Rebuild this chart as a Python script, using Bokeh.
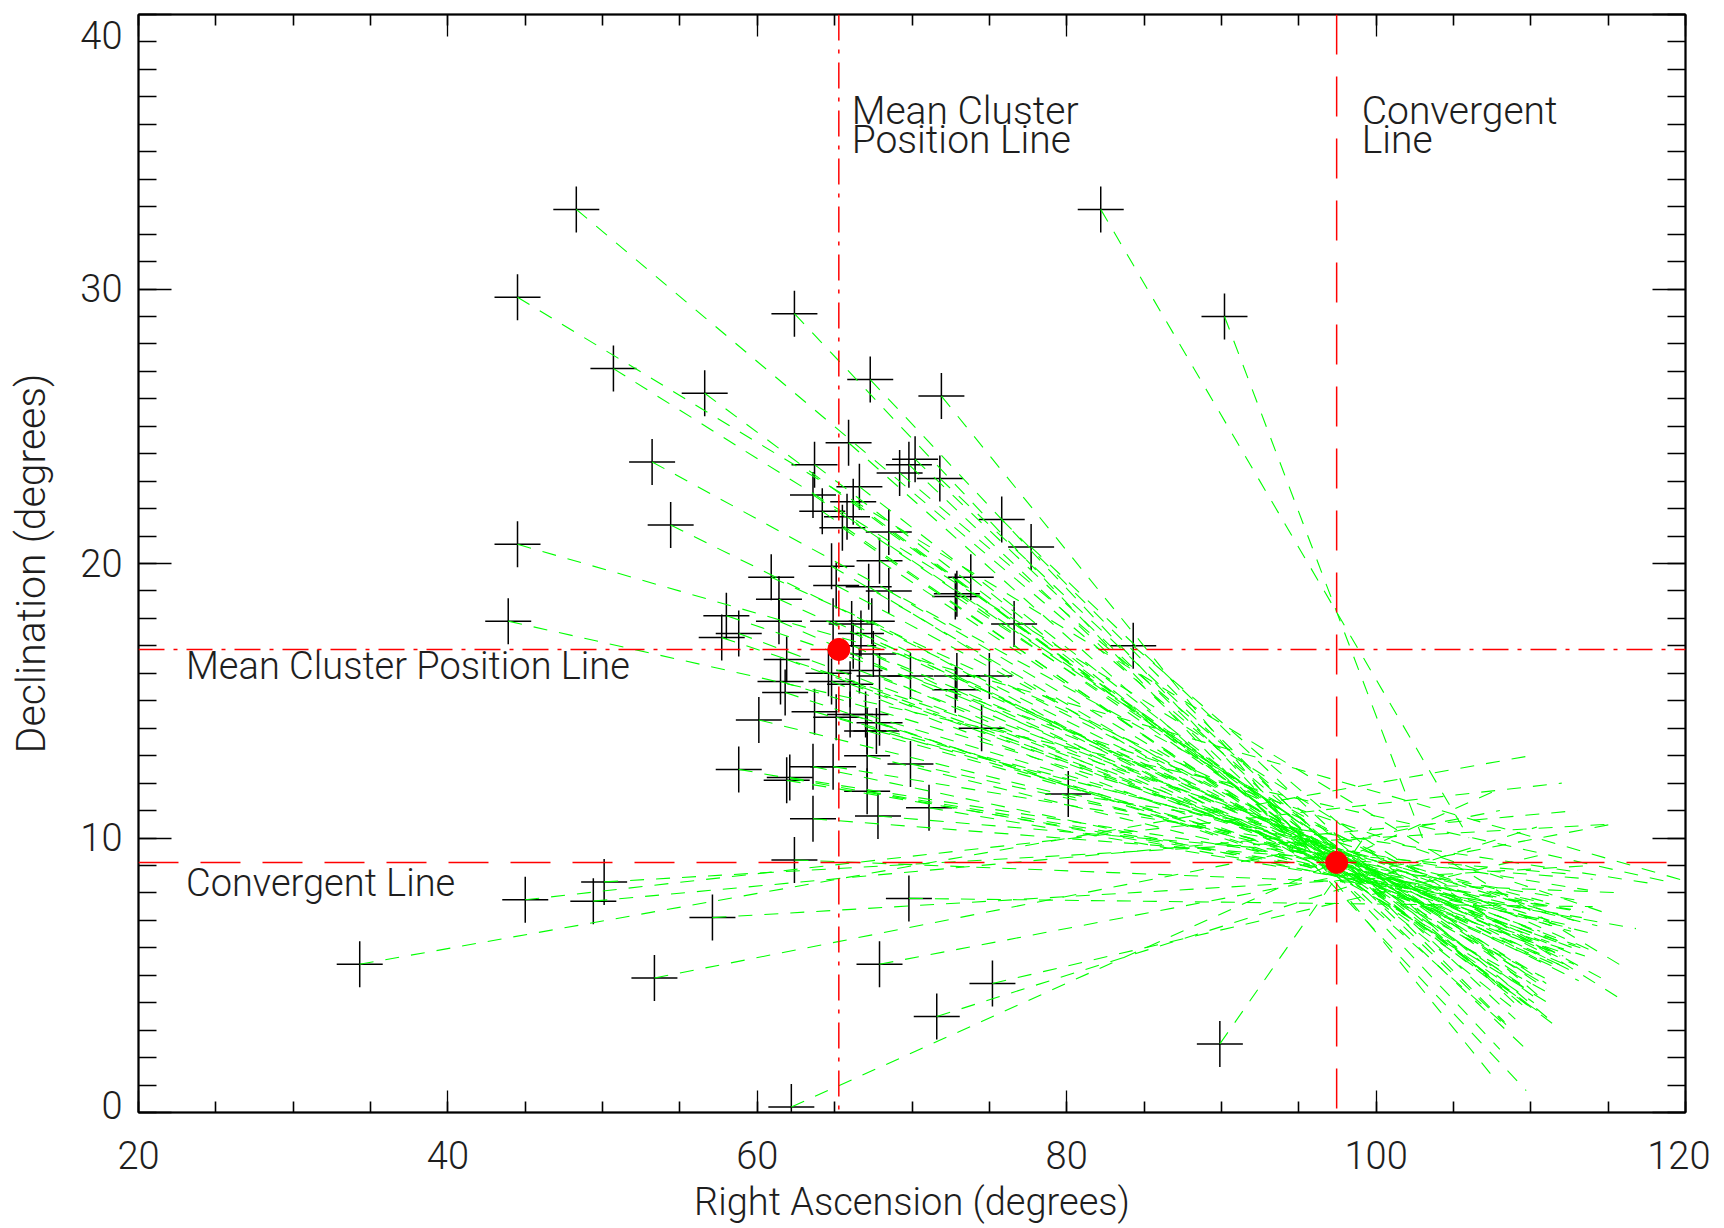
from bokeh.plotting import figure
from bokeh.models import Range1d, SingleIntervalTicker, LinearAxis, Span
from bokeh.embed import file_html
from bokeh.resources import INLINE
from bokeh.core.properties import value

# ---- data ----
star_ra = [48.3, 44.5, 50.7, 56.6, 62.4, 67.3, 71.9, 53.2, 54.4, 44.5,
           43.9, 82.2, 90.2, 75.8, 77.7, 76.6, 84.3, 73.8, 72.9, 72.8,
           69.8, 70.2, 71.8, 72.9, 75.0, 74.5, 80.1, 71.1, 69.8, 67.9,
           71.6, 75.2, 89.9, 62.2, 34.3, 45.0, 50.1, 49.4, 53.35, 57.1,
           58.8, 60.1, 62.4, 61.9, 63.6, 67.8, 67.1, 72.8,
           65.9, 63.7, 63.6, 64.2, 66.6, 66.2, 65.8, 65.5, 68.5, 69.2,
           64.8, 65.1, 67.2, 68.5, 67.9, 60.9, 61.4, 58.0, 57.7, 58.8,
           61.4, 64.9, 66.1, 67.4, 66.7, 66.2, 67.5, 61.9,
           61.5, 61.8, 64.6, 64.8, 66.0, 66.6, 67.9, 69.9, 63.7, 65.1,
           66.0, 67.0, 67.9, 67.1, 67.7, 67.1, 69.9, 63.6, 62.1, 64.9]
star_dec = [32.9, 29.7, 27.1, 26.2, 29.1, 26.7, 26.1, 23.7, 21.4, 20.7,
            17.9, 32.9, 29.0, 21.6, 20.6, 17.8, 17.0, 19.5, 18.9, 18.8,
            23.6, 23.8, 23.1, 15.9, 15.9, 14.0, 11.6, 11.1, 7.8, 5.4,
            3.5, 4.7, 2.5, 0.2, 5.4, 7.75, 8.4, 7.7, 4.9, 7.1,
            12.5, 14.3, 9.2, 12.1, 10.7, 10.8, 11.7, 15.4,
            24.4, 23.6, 22.5, 21.9, 22.8, 22.25, 21.7, 21.3, 21.15, 23.3,
            19.9, 19.2, 19.15, 19.0, 20.1, 19.5, 18.7, 18.1, 17.3, 17.45,
            17.9, 17.9, 17.8, 17.9, 17.45, 17.0, 16.7, 16.5,
            15.7, 15.3, 16.0, 15.7, 15.6, 16.1, 15.9, 15.9, 14.6, 14.4,
            14.5, 14.5, 14.2, 13.9, 13.9, 13.0, 12.7, 12.6, 12.2, 12.6]
# end points of the proper-motion tracks
end_ra = [109.7, 116.0, 116.2, 109.7, 109.7, 108.0, 107.7, 115.2, 112.5, 120.2,
          118.9, 106.0, 103.0, 108.3, 109.3, 110.0, 110.6, 109.3, 109.7, 111.0,
          109.9, 108.4, 109.0, 110.9, 110.9, 111.2, 118.3, 113.3, 114.0, 115.2,
          110.4, 110.8, 99.7, 108.0, 110.0, 112.0, 115.0, 113.0, 108.0, 114.0,
          116.8, 114.3, 116.0, 113.4, 114.0, 112.3, 112.6, 112.2,
          108.5, 109.3, 111.0, 110.7, 109.8, 111.5, 110.1, 110.2, 110.5, 111.6,
          110.5, 110.4, 111.1, 110.5, 109.3, 113.9, 111.9, 115.2, 113.3, 112.9,
          111.9, 112.1, 113.1, 111.0, 112.8, 111.5, 112.4, 111.7,
          111.8, 113.5, 110.6, 112.1, 113.2, 111.3, 112.2, 112.6, 112.6, 110.4,
          113.2, 111.2, 112.2, 112.6, 110.8, 114.1, 111.2, 112.7, 113.4, 113.7]
end_dec = [3.8, 5.3, 4.0, 4.0, 0.8, 2.3, 1.2, 4.7, 5.2, 8.4,
           8.4, 10.0, 10.0, 3.3, 3.8, 4.7, 4.2, 3.6, 4.5, 4.7,
           2.2, 3.2, 3.4, 4.9, 5.8, 6.2, 8.3, 7.1, 7.5, 10.5,
           10.4, 9.4, 10.4, 11.8, 13.0, 12.0, 10.5, 11.0, 11.0, 9.0,
           6.7, 6.8, 8.0, 7.3, 8.5, 8.7, 7.4, 5.3,
           3.1, 4.0, 4.5, 3.6, 3.9, 3.2, 4.9, 4.0, 4.1, 3.2,
           4.8, 5.6, 4.0, 5.0, 4.7, 5.9, 5.7, 7.2, 6.9, 6.1,
           5.3, 5.7, 4.8, 4.4, 5.4, 5.3, 6.1, 6.2,
           7.2, 5.7, 6.6, 5.7, 5.9, 6.8, 5.4, 5.8, 6.6, 7.6,
           6.0, 7.0, 5.8, 6.7, 7.7, 6.5, 7.6, 6.8, 7.7, 8.1]

mean_ra, mean_dec = 65.27, 16.87
conv_ra, conv_dec = 97.45, 9.11

x_ticks_interval = 20
y_ticks_interval = 10
y_min, y_max = 0, 40

FONT = "Roboto Light"
TXT = "#1e1e1e"

p = figure(width=1710, height=1226,
           x_range=Range1d(20, 120), y_range=Range1d(y_min, y_max),
           output_backend="svg", toolbar_location=None,
           min_border_left=138, min_border_right=25,
           min_border_top=14, min_border_bottom=113,
           x_axis_label="Right Ascension (degrees)",
           y_axis_label="Declination (degrees)")
p.grid.visible = False
p.outline_line_color = "black"
p.outline_line_width = 1.5
p.background_fill_color = "white"
p.border_fill_color = "white"

xt = SingleIntervalTicker(interval=x_ticks_interval, num_minor_ticks=4)
yt = SingleIntervalTicker(interval=y_ticks_interval, num_minor_ticks=10)

def style_axis(ax, tick_in, minor_in):
    ax.major_tick_in = tick_in
    ax.major_tick_out = 0
    ax.minor_tick_in = minor_in
    ax.minor_tick_out = 0
    ax.axis_line_width = 2
    ax.major_tick_line_width = 1.3
    ax.minor_tick_line_width = 1.6
    ax.axis_line_color = "black"
    ax.major_tick_line_color = "black"
    ax.minor_tick_line_color = "black"

xa = p.xaxis[0]
xa.ticker = xt
style_axis(xa, 22, 11)
xa.major_label_text_font = FONT
xa.major_label_text_font_size = "38px"
xa.major_label_text_color = TXT
xa.major_label_standoff = 28
xa.axis_label_text_font = FONT
xa.axis_label_text_font_size = "38px"
xa.axis_label_text_font_style = "normal"
xa.axis_label_text_color = TXT
xa.axis_label_standoff = 8

ya = p.yaxis[0]
ya.ticker = yt
style_axis(ya, 33, 18)
ya.major_label_text_font = FONT
ya.major_label_text_font_size = "38px"
ya.major_label_text_color = TXT
ya.major_label_standoff = 16
ya.major_label_text_line_height = 0.3
# end labels sit inside the axis extent, as in the original
ya.major_label_overrides = {y_max: " \n" + str(y_max), y_min: str(y_min) + "\n "}
ya.axis_label_text_font = FONT
ya.axis_label_text_font_size = "41px"
ya.axis_label_text_font_style = "normal"
ya.axis_label_text_color = TXT
ya.axis_label_standoff = 22

top = LinearAxis(ticker=SingleIntervalTicker(interval=x_ticks_interval, num_minor_ticks=4),
                 major_label_text_color=None, major_label_text_font_size="1px",
                 major_label_standoff=0)
style_axis(top, 22, 11)
p.add_layout(top, "above")
right = LinearAxis(ticker=SingleIntervalTicker(interval=y_ticks_interval, num_minor_ticks=10),
                   major_label_text_color=None, major_label_text_font_size="1px",
                   major_label_standoff=0)
style_axis(right, 33, 18)
p.add_layout(right, "right")

# star positions
p.scatter(star_ra, star_dec, marker="cross", size=46,
          line_color="black", line_width=1.5)

# proper motion tracks
p.segment(x0=star_ra, y0=star_dec, x1=end_ra, y1=end_dec,
          line_color="#00ff00", line_width=1.1, line_dash="14 12")

# reference lines
p.add_layout(Span(location=mean_ra, dimension="height", line_color="red",
                  line_width=1.5, line_dash="26 9 4 9"))
p.add_layout(Span(location=mean_dec, dimension="width", line_color="red",
                  line_width=1.5, line_dash="26 9 4 9"))
p.add_layout(Span(location=conv_ra, dimension="height", line_color="red",
                  line_width=1.5, line_dash="40 22"))
p.add_layout(Span(location=conv_dec, dimension="width", line_color="red",
                  line_width=1.5, line_dash="40 22"))

p.scatter([mean_ra, conv_ra], [mean_dec, conv_dec], size=22,
          fill_color="red", line_color="red")

# annotations
p.text(x=[23.07, 23.07],
       y=[16.28, 8.35],
       text=["Mean Cluster Position Line", "Convergent Line"],
       text_font=value(FONT), text_font_size="38px", text_color=TXT,
       text_baseline="alphabetic", text_align="left")
p.text(x=[66.1, 66.1, 99.07, 99.07],
       y=[36.5, 35.42, 36.5, 35.42],
       text=["Mean Cluster", "Position Line", "Convergent", "Line"],
       text_font=value(FONT), text_font_size="39px", text_color=TXT,
       text_baseline="alphabetic", text_align="left")

open("out.html", "w").write(file_html(p, INLINE))
